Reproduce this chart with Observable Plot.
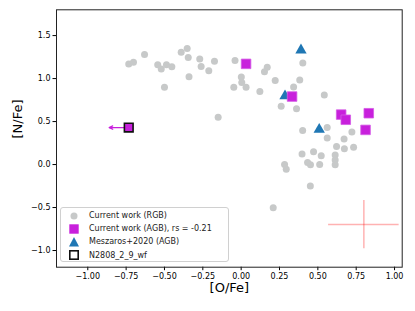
<!DOCTYPE html>
<html>
<head>
<meta charset="utf-8">
<script src="https://cdn.jsdelivr.net/npm/d3@7"></script>
<script src="https://cdn.jsdelivr.net/npm/@observablehq/plot@0.6"></script>
<style>
  html, body { margin: 0; padding: 0; background: #fff; }
  #wrap { position: relative; width: 415px; height: 311px; font-family: "DejaVu Sans", sans-serif; }
  #legend {
    position: absolute; left: 60px; top: 206.5px; width: 169px; height: 55px;
    border: 1px solid #d0d0d0; border-radius: 3px; background: rgba(255,255,255,0.8);
    box-sizing: border-box; font-size: 8px; color: #222; padding-top: 1.5px;
  }
  #legend .row { display: flex; align-items: center; height: 13.2px; white-space: nowrap; }
  #legend svg { width: 28px; height: 12px; flex: none; }
</style>
</head>
<body>
<div id="wrap"></div>
<script>
// Current work (RGB)
const rgbO = [-0.733,-0.702,-0.630,-0.544,-0.521,-0.487,-0.452,-0.391,-0.352,-0.345,-0.270,-0.261,-0.211,-0.174,-0.340,-0.500,-0.150,-0.040,0.170,0.152,0.001,0.004,-0.048,0.032,0.122,0.222,0.402,0.382,0.342,0.542,0.261,0.361,0.561,0.722,0.401,0.561,0.671,0.622,0.673,0.733,0.472,0.397,0.522,0.433,0.452,0.512,0.613,0.613,0.613,0.283,0.294,0.451,0.209];
const rgbN = [1.171,1.190,1.281,1.160,1.110,1.160,1.137,1.306,1.349,1.244,1.229,1.140,1.090,1.203,1.020,0.899,0.550,1.209,1.131,1.079,1.017,0.953,0.899,0.899,0.851,0.977,1.180,0.983,0.901,0.810,0.678,0.649,0.430,0.380,0.395,0.308,0.297,0.209,0.183,0.201,0.149,0.124,0.101,0.023,-0.002,0.002,0.110,0.052,-0.003,0.002,-0.056,-0.250,-0.503];
// Current work (AGB)
const agbO = [0.032,0.332,0.652,0.682,0.832,0.811];
const agbN = [1.171,0.791,0.581,0.521,0.597,0.403];
// Meszaros+2020 (AGB)
const meszO = [0.390,0.286,0.509];
const meszN = [1.331,0.797,0.407];
// N2808_2_9_wf (upper limit in [O/Fe])
const wfO = [-0.733];
const wfN = [0.430];
const wfArrow = [0.128];
// typical error bar
const errO = [0.80], errN = [-0.698], errOerr = [0.23], errNerr = [0.28];

const xTicks = [-1.0,-0.75,-0.5,-0.25,0,0.25,0.5,0.75,1.0];
const yTicks = [-1.0,-0.5,0,0.5,1.0,1.5];
const legendLabels = ["Current work (RGB)","Current work (AGB), rs = -0.21","Meszaros+2020 (AGB)","N2808_2_9_wf"];
const xLabel = "[O/Fe]", yLabel = "[N/Fe]";

const GRAY = "#c7c9c9", MAG = "#c820dc", BLUE = "#1f77b4";

const rgb = rgbO.map((o,i)=>({o, n: rgbN[i]}));
const agb = agbO.map((o,i)=>({o, n: agbN[i]}));
const mesz = meszO.map((o,i)=>({o, n: meszN[i]}));
const wf = wfO.map((o,i)=>({o, n: wfN[i], len: wfArrow[i]}));
const err = errO.map((o,i)=>({o, n: errN[i], eo: errOerr[i], en: errNerr[i]}));

const chart = Plot.plot({
  width: 415, height: 311,
  marginLeft: 56, marginRight: 13.3, marginTop: 9.3, marginBottom: 44.3,
  style: {fontFamily: "DejaVu Sans, sans-serif", fontSize: "8px", color: "#000", background: "#fff"},
  x: {domain: [-1.204, 1.050], ticks: xTicks, tickFormat: d3.format(".2f"), tickSize: 3.5, tickPadding: 2.5, label: null},
  y: {domain: [-1.194, 1.800], ticks: yTicks, tickFormat: d3.format(".1f"), tickSize: 3.5, tickPadding: 2.5, label: null},
  marks: [
    Plot.ruleY(err, {y: "n", x1: d=>d.o-d.eo, x2: d=>d.o+d.eo, stroke: "#ff0000", strokeOpacity: 0.3, strokeWidth: 1.5}),
    Plot.ruleX(err, {x: "o", y1: d=>d.n-d.en, y2: d=>d.n+d.en, stroke: "#ff0000", strokeOpacity: 0.3, strokeWidth: 1.5}),
    Plot.dot(rgb, {x: "o", y: "n", r: 3.5, fill: GRAY, stroke: "none"}),
    Plot.dot(mesz, {x: "o", y: "n", symbol: "triangle", r: 4.2, fill: BLUE, stroke: "none"}),
    Plot.dot(agb, {x: "o", y: "n", symbol: "square", r: 5.4, fill: MAG, stroke: "#d45ae6", strokeWidth: 0.8}),
    Plot.arrow(wf, {x1: "o", x2: d=>d.o-d.len, y1: "n", y2: "n", stroke: MAG, strokeWidth: 1.2, headLength: 5, headAngle: 50, insetStart: 4}),
    Plot.dot(wf, {x: "o", y: "n", symbol: "square", r: 4.9, fill: MAG, stroke: "#111", strokeWidth: 1.6}),
    Plot.frame({stroke: "#222", strokeWidth: 1}),
    Plot.text([xLabel], {frameAnchor: "bottom", dy: 25, fontSize: 13, fill: "#000"}),
    Plot.text([yLabel], {frameAnchor: "left", dx: -38.5, rotate: -90, fontSize: 13, fill: "#000"})
  ]
});
const wrap = document.getElementById("wrap");
wrap.appendChild(chart);

// legend
const leg = document.createElement("div");
leg.id = "legend";
const sym = [
  `<circle cx="13" cy="6" r="3.5" fill="${GRAY}"/>`,
  `<rect x="8.3" y="1.3" width="9.4" height="9.4" fill="${MAG}"/>`,
  `<path d="M13,1 L18,10.5 L8,10.5 Z" fill="${BLUE}"/>`,
  `<rect x="8.8" y="1.8" width="8.4" height="8.4" fill="#fff" stroke="#111" stroke-width="1.6"/>`
];
legendLabels.forEach((t,i)=>{
  const r = document.createElement("div");
  r.className = "row";
  r.innerHTML = `<svg viewBox="0 0 28 12">${sym[i]}</svg><span>${t}</span>`;
  leg.appendChild(r);
});
wrap.appendChild(leg);
</script>
</body>
</html>
